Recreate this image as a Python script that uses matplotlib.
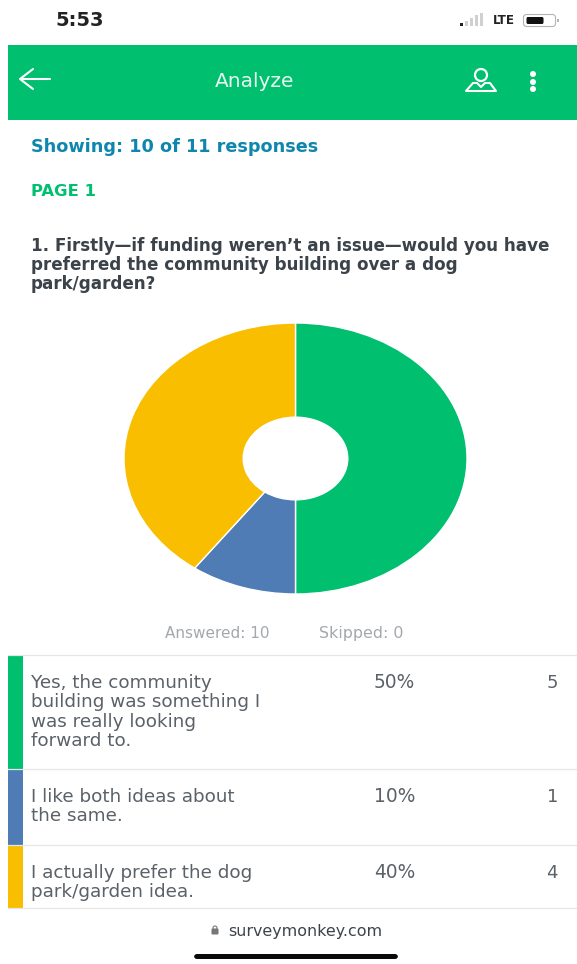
import matplotlib
matplotlib.use('Agg')
import matplotlib.pyplot as plt
from matplotlib.patches import Rectangle, Circle, FancyBboxPatch, Polygon

W, H = 577, 964

GREEN = '#00bf6f'
BLUE = '#507cb6'
YELLOW = '#f9be00'
TEXT = '#5b6168'

answers = ['Yes, the community\nbuilding was something I\nwas really looking\nforward to.',
           'I like both ideas about\nthe same.',
           'I actually prefer the dog\npark/garden idea.']
percents = ['50%', '10%', '40%']
counts = [5, 1, 4]
colors = [GREEN, BLUE, YELLOW]

# top and bottom pixel of each table row
row_tops = [655, 769, 845]
row_bottoms = [769, 845, 908]
text_baselines = [688, 802, 878]

plt.rcParams['font.family'] = ['DejaVu Sans']

fig = plt.figure(figsize=(W / 100, H / 100), dpi=100, facecolor='white')
ax = fig.add_axes([0, 0, 1, 1])
ax.set_xlim(0, W)
ax.set_ylim(H, 0)
ax.axis('off')

# status bar
ax.text(79.5, 20, '5:53', fontsize=14, color='#222222', ha='center', va='center', weight='bold')
for x, h, c in [(461, 3, '#222222'), (466, 5, '#d0d0d0'), (471, 8, '#d0d0d0'), (476, 11, '#d0d0d0'), (481, 13, '#d0d0d0')]:
    ax.add_patch(Rectangle((x - 1, 26 - h), 2.6, h, color=c, lw=0))
ax.text(504, 21, 'LTE', fontsize=8.6, color='#222222', ha='center', va='center', weight='bold')
ax.add_patch(FancyBboxPatch((525, 16), 29, 9, boxstyle='round,pad=1.5,rounding_size=3', fc='white', ec='#b5b5b5', lw=0.8))
ax.add_patch(FancyBboxPatch((527, 17.5), 16, 6, boxstyle='round,pad=0.5,rounding_size=1.5', fc='#111111', ec='none'))
ax.add_patch(Rectangle((557, 19), 1.5, 3, color='#b5b5b5', lw=0))

# header band
ax.add_patch(Rectangle((8, 45), W - 8, 75, color=GREEN, lw=0))
ax.plot([21, 50], [79, 79], color='white', lw=1.5, solid_capstyle='round')
ax.plot([33, 20, 33], [69, 79, 89], color='white', lw=1.5, solid_capstyle='round', solid_joinstyle='round')
ax.text(255, 87, 'Analyze', fontsize=14.5, color='#e6f8f0', ha='center', va='baseline')
ax.add_patch(Circle((481, 75), 6, fc='none', ec='white', lw=1.6))
ax.add_patch(Polygon([(473, 83), (477, 83), (481, 87), (485, 83), (490, 83), (496, 91), (466, 91)],
                     closed=True, fc='none', ec='white', lw=1.5, joinstyle='round'))
for y in (74, 82, 89):
    ax.add_patch(Circle((533, y), 3, color='white', lw=0))

ax.text(31, 152, 'Showing: 10 of 11 responses', fontsize=12.7, color='#0f86ad', ha='left', va='baseline', weight='bold')
ax.text(31, 196, 'PAGE 1', fontsize=11.8, color=GREEN, ha='left', va='baseline', weight='bold')

question = ['1. Firstly\u2014if funding weren\u2019t an issue\u2014would you have',
            'preferred the community building over a dog',
            'park/garden?']
for y, line in zip((251, 270, 289), question):
    ax.text(31, y, line, fontsize=12.05, color='#3b4249', ha='left', va='baseline', weight='bold')

# pie drawn in its own axes, stretched to an ellipse
pie_ax = fig.add_axes([124 / W, 1 - 594 / H, 343 / W, 271 / H])
pie_ax.pie(counts, colors=colors, startangle=90, counterclock=False, radius=1,
           wedgeprops=dict(width=0.695, edgecolor='white', linewidth=1.0))
pie_ax.set_xlim(-1, 1)
pie_ax.set_ylim(-1, 1)
pie_ax.set_aspect('auto')

ax.text(217.5, 638, 'Answered: 10', fontsize=11, color='#a4a8ad', ha='center', va='baseline')
ax.text(361.5, 638, 'Skipped: 0', fontsize=11.4, color='#a4a8ad', ha='center', va='baseline')

# answer table
for i in range(len(answers)):
    ax.add_patch(Rectangle((8, row_tops[i]), 15, row_bottoms[i] - row_tops[i], color=colors[i], lw=0))
    ax.plot([8, W], [row_tops[i], row_tops[i]], color='#e6e6e6', lw=0.9)
    for j, line in enumerate(answers[i].split('\n')):
        ax.text(31, text_baselines[i] + j * 19.3, line, fontsize=13.2, color=TEXT, ha='left', va='baseline')
    ax.text(415, text_baselines[i], percents[i], fontsize=13.4, color=TEXT, ha='right', va='baseline')
    ax.text(558, text_baselines[i], str(counts[i]), fontsize=13, color=TEXT, ha='right', va='baseline')
ax.plot([8, W], [908, 908], color='#e6e6e6', lw=0.9)

# address bar
ax.add_patch(FancyBboxPatch((212, 929), 6, 5, boxstyle='round,pad=0.5,rounding_size=1', fc='#777777', ec='none'))
ax.add_patch(Circle((215, 928), 2, fc='none', ec='#777777', lw=0.8))
ax.text(305, 936, 'surveymonkey.com', fontsize=11.4, color='#3d4349', ha='center', va='baseline')
ax.add_patch(FancyBboxPatch((196, 956), 200, 1, boxstyle='round,pad=2,rounding_size=3', fc='#0a0a0a', ec='none'))

fig.savefig('out.png', dpi=100)
